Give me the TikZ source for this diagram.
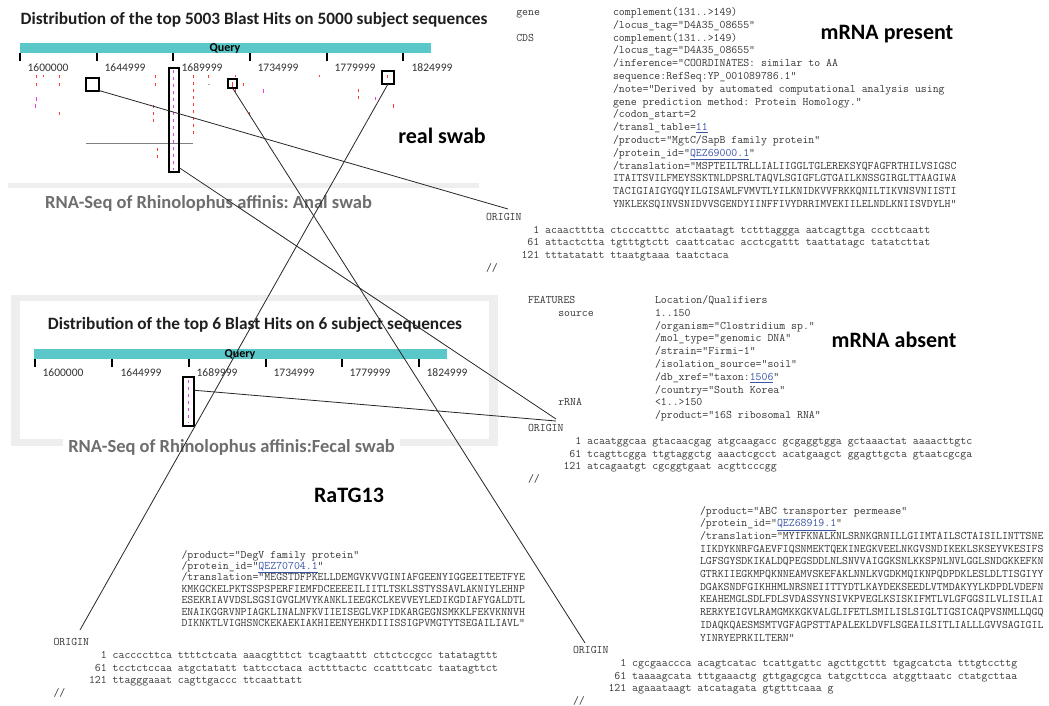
\documentclass[tikz,border=0pt]{standalone}
\usepackage{fontspec}
\newfontfamily\calfont{Carlito}
\definecolor{qbar}{HTML}{5AC8C8}
\definecolor{hitred}{HTML}{FF3B3B}
\definecolor{hitmag}{HTML}{F03CF0}
\definecolor{linkc}{HTML}{3A55A8}
\definecolor{bandgray}{HTML}{EEEEEE}
\definecolor{labgray}{HTML}{6E6E6E}
\newcommand\lnk[1]{\textcolor{linkc}{\underline{#1}}}
\frenchspacing
\begin{document}
\begin{tikzpicture}[x=1pt,y=-1pt,
 gb/.style={font=\ttfamily\fontsize{11.5}{12}\selectfont, text=black!78, inner sep=0pt, outer sep=0pt, anchor=base west},
 bigl/.style={font=\calfont\bfseries\fontsize{22}{24}\selectfont, inner sep=0pt},
 ttl/.style={font=\calfont\bfseries\fontsize{17.3}{20}\selectfont, text=black!88, inner sep=0pt},
 swab/.style={font=\calfont\bfseries\fontsize{18.5}{20}\selectfont, text=labgray, inner sep=0pt},
 qlab/.style={font=\calfont\bfseries\fontsize{12}{12}\selectfont, inner sep=0pt},
 tlab/.style={font=\calfont\fontsize{11.5}{12}\selectfont, text=black!80, inner sep=0pt},
 hitbox/.style={draw=black, line width=2pt, inner sep=0pt, outer sep=0pt},
 conn/.style={draw=black!85, line width=0.8pt},
 tickm/.style={line width=1.6pt, draw=black},
 rm/.style={draw=hitred, line width=1pt},
 mm/.style={draw=hitmag, line width=1pt},
 dsh/.style={dash pattern=on 3pt off 4pt},
]
\useasboundingbox (0,0) rectangle (1049,705);
\fill[white] (0,0) rectangle (1049,705);

% ---------------- top panel ----------------
\node[ttl] (t1) at (254,20) {Distribution of the top 5003 Blast Hits on 5000 subject sequences};
\fill[qbar] (20,43) rectangle (431,53);
\node[qlab] (q1) at (225,49) {Query};
\foreach \x in {20,97,173,250,327,403} \draw[tickm] (\x,53) -- (\x,61);
\foreach \x/\l [count=\i] in {48/1600000,125/1644999,202/1689999,278/1734999,355/1779999,432/1824999}
  \node[tlab] (tla\i) at (\x,68) {\l};
% hits
\foreach \x/\a/\b in {36.7/75/78, 36.7/83/86, 43.3/75/77, 59/75/78, 59/83/86, 59/112/115, 155/75/78, 155/83/86, 208/75/78, 235/75/77, 235/88/92, 243/83/86, 249/112/115, 319/75/77, 387/75/77.5, 393/104/108, 232/82/87}
  \draw[rm] (\x,\a) -- (\x,\b);
\foreach \x/\a/\b in {36.7/97/101, 35.7/104/108, 168/83/86, 263/89/93, 375/97/100}
  \draw[mm] (\x,\a) -- (\x,\b);
\foreach \x/\a/\b in {153/105/123, 157/148/160, 193/75/138, 358/89/100}
  \draw[rm,dsh] (\x,\a) -- (\x,\b);
\draw[mm,dsh] (173,70) -- (173,170);
\draw[gray!70, line width=0.8pt] (208,84) -- (210,84);
\draw[gray, line width=0.8pt] (86,143) -- (193,143);
\node[hitbox, minimum width=13pt, minimum height=13pt] (box1) at (92.5,84) {};
\node[hitbox, minimum width=10pt, minimum height=104pt] (tall) at (174,120) {};
\node[hitbox, minimum width=9pt, minimum height=9pt] (box2) at (232.5,83.5) {};
\node[hitbox, minimum width=12pt, minimum height=13pt] (box3) at (388,77.5) {};
\fill[bandgray] (8,183) rectangle (479,188);
\node[swab] (anal) at (208.5,203) {RNA-Seq of Rhinolophus affinis: Anal swab};
\node[bigl] (real) at (442,136) {real swab};

% ---------------- second panel ----------------
\fill[bandgray] (11,295) rectangle (498,446);
\fill[white] (20,301) rectangle (489,439);
\fill[white] (63,438) rectangle (400,462);
\node[ttl] (t2) at (255,325) {Distribution of the top 6 Blast Hits on 6 subject sequences};
\fill[qbar] (34,349) rectangle (447,359);
\node[qlab] (q2) at (240,354) {Query};
\foreach \x in {35,112,189,266,342,419} \draw[tickm] (\x,359) -- (\x,367);
\foreach \x/\l [count=\i] in {63/1600000,141/1644999,217/1689999,294/1734999,370/1779999,447/1824999}
  \node[tlab] (tlb\i) at (\x,373) {\l};
\draw[mm,dsh] (188,380) -- (188,423);
\node[hitbox, minimum width=11pt, minimum height=49pt] (fbox) at (188.5,401.5) {};
\node[swab] (fecal) at (231.5,447) {RNA-Seq of Rhinolophus affinis:Fecal swab};

% ---------------- labels ----------------
\node[bigl] (mpres) at (887,34) {mRNA present};
\node[bigl] (mabs) at (894,340) {mRNA absent};
\node[bigl] (ratg) at (349,495) {RaTG13};

% ---------------- block A ----------------
\def\Ay{15.5}
\node[gb] (ak0) at (516.25,\Ay) {gene};
\node[gb] (ak1) at (516.25,\Ay+25.6) {CDS};
\foreach \t [count=\i from 0] in {
 {complement(131..>149)},
 {/locus\_tag="D4A35\_08655"},
 {complement(131..>149)},
 {/locus\_tag="D4A35\_08655"},
 {/inference="COORDINATES: similar to AA},
 {sequence:RefSeq:YP\_001089786.1"},
 {/note="Derived by automated computational analysis using},
 {gene prediction method: Protein Homology."},
 {/codon\_start=2},
 {/transl\_table=\lnk{11}},
 {/product="MgtC/SapB family protein"},
 {/protein\_id="\lnk{QEZ69000.1}"},
 {/translation="MSPTEILTRLLIALIIGGLTGLEREKSYQFAGFRTHILVSIGSC},
 {ITAITSVILFMEYSSKTNLDPSRLTAQVLSGIGFLGTGAILKNSSGIRGLTTAAGIWA},
 {TACIGIAIGYGQYILGISAWLFVMVTLYILKNIDKVVFRKKQNILTIKVNSVNIISTI},
 {YNKLEKSQINVSNIDVVSGENDYIINFFIVYDRRIMVEKIILELNDLKNIISVDYLH"}}
 \node[gb] (av\i) at (613,\Ay+12.8*\i) {\t};
\foreach \t [count=\i from 16] in {
 {ORIGIN},
 {~~~~~~~~1 acaactttta ctcccatttc atctaatagt tctttaggga aatcagttga cccttcaatt},
 {~~~~~~~61 attactctta tgtttgtctt caattcatac acctcgattt taattatagc tatatcttat},
 {~~~~~~121 tttatatatt ttaatgtaaa taatctaca},
 {//}}
 \node[gb] (ao\i) at (486,\Ay+12.8*\i) {\t};

% ---------------- block B ----------------
\def\By{303.5}
\node[gb] (bk0) at (528,\By) {FEATURES};
\node[gb] (bk1) at (558.25,\By+12.8) {source};
\node[gb] (bk2) at (558.25,\By+12.8*8) {rRNA};
\foreach \t [count=\i from 0] in {
 {Location/Qualifiers},
 {1..150},
 {/organism="Clostridium sp."},
 {/mol\_type="genomic DNA"},
 {/strain="Firmi-1"},
 {/isolation\_source="soil"},
 {/db\_xref="taxon:\lnk{1506}"},
 {/country="South Korea"},
 {<1..>150},
 {/product="16S ribosomal RNA"}}
 \node[gb] (bv\i) at (655,\By+12.8*\i) {\t};
\foreach \t [count=\i from 10] in {
 {ORIGIN},
 {~~~~~~~~1 acaatggcaa gtacaacgag atgcaagacc gcgaggtgga gctaaactat aaaacttgtc},
 {~~~~~~~61 tcagttcgga ttgtaggctg aaactcgcct acatgaagct ggagttgcta gtaatcgcga},
 {~~~~~~121 atcagaatgt cgcggtgaat acgttcccgg},
 {//}}
 \node[gb] (bo\i) at (528,\By+12.8*\i) {\t};

% ---------------- block C ----------------
\def\Cy{558}
\def\Coy{645.7}
\foreach \t [count=\i from 0] in {
 {/product="DegV family protein"},
 {/protein\_id="\lnk{QEZ70704.1}"},
 {/translation="MEGSTDFPKELLDEMGVKVVGINIAFGEENYIGGEEITEETFYE},
 {KMKGCKELPKTSSPSPERFIEMFDCEEEEILIITLTSKLSSTYSSAVLAKNIYLEHNP},
 {ESEKRIAVVDSLSGSIGVGLMVYKANKLIEEGKCLKEVVEYLEDIKGDIAFYGALDTL},
 {ENAIKGGRVNPIAGKLINALNFKVIIEISEGLVKPIDKARGEGNSMKKLFEKVKNNVH},
 {DIKNKTLVIGHSNCKEKAEKIAKHIEENYEHKDIIISSIGPVMGTYTSEGAILIAVL"}}
 \node[gb] (cv\i) at (181.5,\Cy+11.4*\i) {\t};
\foreach \t [count=\i from 0] in {
 {ORIGIN},
 {~~~~~~~~1 caccccttca ttttctcata aaacgtttct tcagtaattt cttctccgcc tatatagttt},
 {~~~~~~~61 tcctctccaa atgctatatt tattcctaca acttttactc ccatttcatc taatagttct},
 {~~~~~~121 ttagggaaat cagttgaccc ttcaattatt},
 {//}}
 \node[gb] (co\i) at (53.5,\Coy+12.7*\i) {\t};

% ---------------- block D ----------------
\def\Dy{514}
\foreach \t [count=\i from 0] in {
 {/product="ABC transporter permease"},
 {/protein\_id="\lnk{QEZ68919.1}"},
 {/translation="MYIFKNALKNLSRNKGRNILLGIIMTAILSCTAISILINTTSNE},
 {IIKDYKNRFGAEVFIQSNMEKTQEKINEGKVEELNKGVSNDIKEKLSKSEYVKESIFS},
 {LGFSGYSDKIKALDQPEGSDDLNLSNVVAIGGKSNLKKSPNLNVLGGLSNDGKKEFKN},
 {GTRKIIEGKMPQKNNEAMVSKEFAKLNNLKVGDKMQIKNPQDPDKLESLDLTISGIYY},
 {DGAKSNDFGIKHHMLNRSNEIITTYDTLKAYDEKSEEDLVTMDAKYYLKDPDLVDEFN},
 {KEAHEMGLSDLFDLSVDASSYNSIVKPVEGLKSISKIFMTLVLGFGGSILVLISILAI},
 {RERKYEIGVLRAMGMKKGKVALGLIFETLSMILISLSIGLTIGSICAQPVSNMLLQGQ},
 {IDAQKQAESMSMTVGFAGPSTTAPALEKLDVFLSGEAILSITLIALLLGVVSAGIGIL},
 {YINRYEPRKILTERN"}}
 \node[gb] (dv\i) at (700,\Dy+12.7*\i) {\t};
\foreach \t [count=\i from 11] in {
 {ORIGIN},
 {~~~~~~~~1 cgcgaaccca acagtcatac tcattgattc agcttgcttt tgagcatcta tttgtccttg},
 {~~~~~~~61 taaaagcata tttgaaactg gttgagcgca tatgcttcca atggttaatc ctatgcttaa},
 {~~~~~~121 agaaataagt atcatagata gtgtttcaaa g},
 {//}}
 \node[gb] (do\i) at (573,\Dy+12.7*\i) {\t};

% ---------------- connectors ----------------
\coordinate (endA) at (508,209);
\coordinate (endB) at (556,419);
\coordinate (endBf) at (556,421);
\coordinate (endC) at (80,630);
\coordinate (endD) at (585,643);
\draw[conn] (box1.south east) -- (endA);
\draw[conn] (tall.-84) -- (endB);
\draw[conn] (fbox.64) -- (endBf);
\draw[conn] (box2.south) -- (endD);
\draw[conn] (box3.south) -- (endC);
\end{tikzpicture}
\end{document}
